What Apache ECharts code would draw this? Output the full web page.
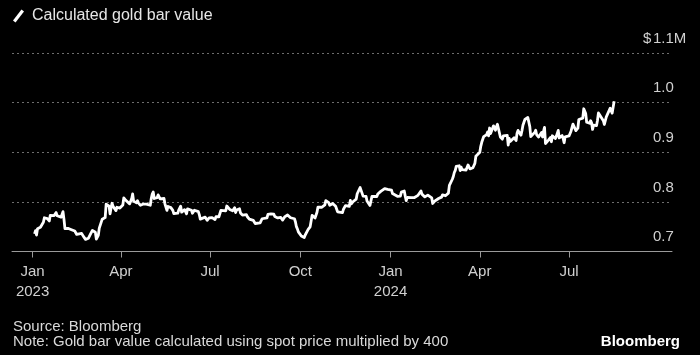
<!DOCTYPE html>
<html>
<head>
<meta charset="utf-8">
<script src="https://cdn.jsdelivr.net/npm/echarts@6/dist/echarts.min.js"></script>
<style>
html,body{margin:0;padding:0;background:#000;}
#chart{width:700px;height:355px;}
</style>
</head>
<body>
<div id="chart"></div>
<script>
// Spot gold price (USD/oz), daily
var dates2023 = ['01-03','01-04','01-05','01-06','01-09','01-10','01-11','01-12','01-13','01-16','01-17','01-18','01-19','01-20','01-23','01-24','01-25','01-26','01-27','01-30','01-31',
'02-01','02-02','02-03','02-06','02-07','02-08','02-09','02-10','02-13','02-14','02-15','02-16','02-17','02-20','02-21','02-22','02-23','02-24','02-27','02-28',
'03-01','03-02','03-03','03-06','03-07','03-08','03-09','03-10','03-13','03-14','03-15','03-16','03-17','03-20','03-21','03-22','03-23','03-24','03-27','03-28','03-29','03-30','03-31',
'04-03','04-04','04-05','04-06','04-10','04-11','04-12','04-13','04-14','04-17','04-18','04-19','04-20','04-21','04-24','04-25','04-26','04-27','04-28',
'05-01','05-02','05-03','05-04','05-05','05-08','05-09','05-10','05-11','05-12','05-15','05-16','05-17','05-18','05-19','05-22','05-23','05-24','05-25','05-26','05-29','05-30','05-31',
'06-01','06-02','06-05','06-06','06-07','06-08','06-09','06-12','06-13','06-14','06-15','06-16','06-19','06-20','06-21','06-22','06-23','06-26','06-27','06-28','06-29','06-30',
'07-03','07-05','07-06','07-07','07-10','07-11','07-12','07-13','07-14','07-17','07-18','07-19','07-20','07-21','07-24','07-25','07-26','07-27','07-28','07-31',
'08-01','08-02','08-03','08-04','08-07','08-08','08-09','08-10','08-11','08-14','08-15','08-16','08-17','08-18','08-21','08-22','08-23','08-24','08-25','08-28','08-29','08-30','08-31',
'09-01','09-04','09-05','09-06','09-07','09-08','09-11','09-12','09-13','09-14','09-15','09-18','09-19','09-20','09-21','09-22','09-25','09-26','09-27','09-28','09-29',
'10-02','10-03','10-04','10-05','10-06','10-09','10-10','10-11','10-12','10-13','10-16','10-17','10-18','10-19','10-20','10-23','10-24','10-25','10-26','10-27','10-30','10-31',
'11-01','11-02','11-03','11-06','11-07','11-08','11-09','11-10','11-13','11-14','11-15','11-16','11-17','11-20','11-21','11-22','11-23','11-24','11-27','11-28','11-29','11-30',
'12-01','12-04','12-05','12-06','12-07','12-08','12-11','12-12','12-13','12-14','12-15','12-18','12-19','12-20','12-21','12-22','12-26','12-27','12-28','12-29'];
var gold2023 = [1839,1855,1833,1865,1872,1877,1875,1897,1920,1916,1908,1904,1932,1926,1931,1937,1946,1930,1928,1923,1928,
1951,1912,1865,1867,1874,1875,1861,1865,1853,1854,1836,1836,1842,1841,1835,1825,1822,1811,1817,1827,
1837,1836,1856,1847,1813,1815,1831,1868,1913,1904,1918,1921,1988,1978,1940,1969,1993,1978,1956,1973,1965,1980,1969,
1984,2020,2021,2008,1990,2003,2015,2040,2004,1995,2006,1994,2004,1983,1989,1998,1989,1989,1990,
1983,2017,2039,2050,2017,2021,2035,2031,2015,2011,2017,1989,1981,1957,1977,1971,1975,1957,1941,1946,1943,1958,1962,
1978,1948,1961,1963,1940,1965,1961,1958,1943,1942,1958,1957,1951,1936,1913,1913,1921,1923,1914,1907,1908,1919,
1921,1915,1911,1925,1925,1932,1957,1961,1955,1955,1979,1977,1970,1962,1955,1965,1971,1946,1959,1965,
1944,1934,1933,1943,1936,1925,1915,1913,1914,1907,1902,1891,1889,1889,1894,1898,1915,1917,1914,1920,1937,1942,1940,
1940,1938,1926,1917,1919,1919,1922,1913,1908,1910,1924,1934,1931,1931,1920,1925,1915,1900,1875,1864,1849,
1828,1822,1822,1820,1833,1861,1861,1874,1869,1932,1919,1923,1948,1974,1981,1973,1970,1979,1985,2006,1996,1983,
1983,1985,1992,1978,1969,1950,1958,1940,1946,1963,1959,1981,1980,1978,2007,1990,1992,2002,2014,2041,2044,2036,
2072,2029,2019,2025,2028,2004,1982,1979,2027,2035,2019,2027,2040,2031,2046,2053,2067,2077,2063,2063];

var dates2024 = ['01-02','01-03','01-04','01-05','01-08','01-09','01-10','01-11','01-12','01-15','01-16','01-17','01-18','01-19','01-22','01-23','01-24','01-25','01-26','01-29','01-30','01-31',
'02-01','02-02','02-05','02-06','02-07','02-08','02-09','02-12','02-13','02-14','02-15','02-16','02-19','02-20','02-21','02-22','02-23','02-26','02-27','02-28','02-29',
'03-01','03-04','03-05','03-06','03-07','03-08','03-11','03-12','03-13','03-14','03-15','03-18','03-19','03-20','03-21','03-22','03-25','03-26','03-27','03-28',
'04-01','04-02','04-03','04-04','04-05','04-08','04-09','04-10','04-11','04-12','04-15','04-16','04-17','04-18','04-19','04-22','04-23','04-24','04-25','04-26','04-29','04-30',
'05-01','05-02','05-03','05-06','05-07','05-08','05-09','05-10','05-13','05-14','05-15','05-16','05-17','05-20','05-21','05-22','05-23','05-24','05-27','05-28','05-29','05-30','05-31',
'06-03','06-04','06-05','06-06','06-07','06-10','06-11','06-12','06-13','06-14','06-17','06-18','06-19','06-20','06-21','06-24','06-25','06-26','06-27','06-28',
'07-01','07-02','07-03','07-04','07-05','07-08','07-09','07-10','07-11','07-12','07-15','07-16','07-17','07-18','07-19','07-22','07-23','07-24','07-25','07-26','07-29','07-30','07-31',
'08-01','08-02','08-05','08-06','08-07','08-08','08-09','08-12','08-13','08-14','08-15','08-16'];
var gold2024 = [2059,2042,2043,2045,2028,2029,2024,2029,2049,2055,2028,2006,2023,2029,2021,2029,2014,2021,2018,2033,2037,2039,
2055,2039,2025,2035,2035,2034,2024,2020,1992,1992,2004,2013,2017,2024,2025,2024,2035,2031,2029,2034,2044,
2083,2114,2128,2148,2159,2179,2182,2158,2175,2162,2155,2160,2157,2186,2181,2166,2172,2178,2194,2230,
2250,2280,2300,2290,2329,2339,2352,2333,2372,2344,2383,2383,2361,2379,2391,2327,2322,2316,2332,2337,2335,2286,
2320,2304,2301,2323,2314,2309,2346,2360,2336,2358,2386,2377,2415,2425,2421,2379,2329,2334,2350,2361,2338,2343,2327,
2350,2327,2355,2375,2294,2311,2316,2324,2303,2333,2319,2330,2328,2360,2322,2334,2319,2298,2327,2326,
2332,2330,2356,2356,2392,2359,2364,2371,2415,2411,2422,2469,2459,2445,2401,2396,2409,2398,2365,2387,2384,2410,2448,
2446,2443,2409,2390,2382,2428,2431,2472,2465,2447,2456,2507];

var OUNCES_PER_BAR = 400;

var xTickDates = ['2023-01-01','2023-04-01','2023-07-01','2023-10-01','2024-01-01','2024-04-01','2024-07-01'];
var xTickLabels = ['Jan\n2023','Apr','Jul','Oct','Jan\n2024','Apr','Jul'];
var yTicks = [0.7, 0.8, 0.9, 1.0, 1.1];
var yTickLabels = ['0.7', '0.8', '0.9', '1.0', '1.1M'];

function ts(d) { return Date.parse(d + 'T00:00:00Z'); }

var seriesData = [];
dates2023.forEach(function (d, i) { seriesData.push([ts('2023-' + d), gold2023[i] * OUNCES_PER_BAR / 1e6]); });
dates2024.forEach(function (d, i) { seriesData.push([ts('2024-' + d), gold2024[i] * OUNCES_PER_BAR / 1e6]); });

var xTickTimes = xTickDates.map(ts);

var FONT = '"Liberation Sans", Arial, sans-serif';
var chart = echarts.init(document.getElementById('chart'), null, {renderer: 'canvas'});
chart.setOption({
  backgroundColor: '#000',
  animation: false,
  textStyle: {fontFamily: FONT},
  legend: {
    left: 13, top: 8,
    padding: 0,
    itemWidth: 11, itemHeight: 13,
    icon: 'path://M8.5,0 L11,2 L2.5,13 L0,11 Z',
    textStyle: {color: '#e6e6e6', fontSize: 16, fontFamily: FONT, padding: [0, 0, 0, 3]},
    data: ['Calculated gold bar value']
  },
  title: [
    {
      text: 'Source: Bloomberg\nNote: Gold bar value calculated using spot price multiplied by 400',
      left: 13, top: 319, padding: 0,
      textStyle: {color: '#d9d9d9', fontSize: 15, lineHeight: 15, fontWeight: 'normal', fontFamily: FONT}
    },
    {
      text: 'Bloomberg',
      right: 20, top: 334, padding: 0,
      textStyle: {color: '#ffffff', fontSize: 15, fontWeight: 'bold', fontFamily: FONT}
    }
  ],
  grid: {left: 12, right: 28, top: 53, bottom: 103.5, containLabel: false},
  xAxis: {
    type: 'value',
    min: ts('2022-12-11'),
    max: ts('2024-10-14'),
    axisLine: {show: true, lineStyle: {color: '#9a9a9a', width: 1}},
    axisTick: {show: true, customValues: xTickTimes, length: 6, lineStyle: {color: '#9a9a9a'}},
    axisLabel: {
      customValues: xTickTimes,
      color: '#d0d0d0', fontSize: 15, lineHeight: 20, margin: 10, fontFamily: FONT,
      formatter: function (v) {
        var i = xTickTimes.indexOf(v);
        return i >= 0 ? xTickLabels[i] : '';
      }
    },
    splitLine: {show: false}
  },
  yAxis: {
    type: 'value',
    position: 'right',
    min: 0.7, max: 1.1, interval: 0.1,
    axisLine: {show: false},
    axisTick: {show: false},
    splitLine: {show: true, lineStyle: {color: '#6e6e6e', type: [2, 3], width: 1}},
    axisLabel: {
      inside: true,
      margin: 29,
      align: 'left',
      verticalAlign: 'bottom',
      padding: [0, 0, 7, 0],
      color: '#d0d0d0', fontSize: 15, fontFamily: FONT,
      showMaxLabel: true, showMinLabel: true,
      formatter: function (v) {
        var idx = yTicks.findIndex(function (t) { return Math.abs(t - v) < 1e-6; });
        var lab = idx >= 0 ? yTickLabels[idx] : '';
        var pre = idx === yTicks.length - 1 ? '$' : '';
        return '{s|' + pre + '}{v|' + lab + '}';
      },
      rich: {
        s: {width: 10, color: '#d0d0d0', fontSize: 15, fontFamily: FONT},
        v: {color: '#d0d0d0', fontSize: 15, fontFamily: FONT}
      }
    }
  },
  series: [{
    name: 'Calculated gold bar value',
    type: 'line',
    data: seriesData,
    showSymbol: false,
    symbol: 'none',
    itemStyle: {color: '#ffffff'},
    lineStyle: {color: '#ffffff', width: 2.8, join: 'round'}
  }]
});
</script>
</body>
</html>
